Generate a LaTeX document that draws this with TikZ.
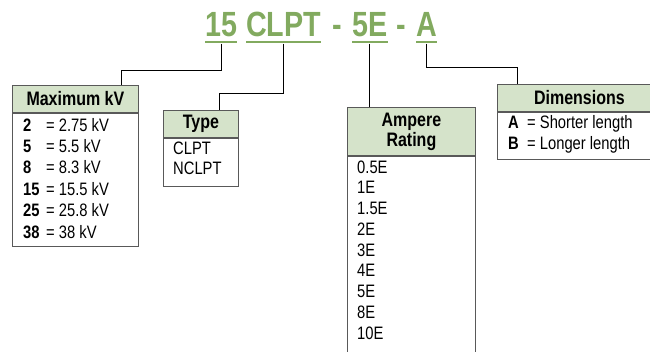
\documentclass[tikz,border=0pt]{standalone}
\usepackage{fontspec}
\setmainfont{Liberation Sans}[FakeStretch=0.82]
\usetikzlibrary{positioning}

\definecolor{codegreen}{HTML}{82AA5F}
\definecolor{headfill}{HTML}{D5E3CA}

\begin{document}
\begin{tikzpicture}[
  x=1pt, y=-1pt,
  code/.style={text=codegreen, font=\fontsize{35}{35}\selectfont\bfseries, inner sep=0pt, anchor=base west},
  uline/.style={draw=codegreen, line width=2.5pt},
  head/.style={draw=black!65, fill=headfill, line width=0.8pt, font=\fontsize{19.5}{20}\selectfont\bfseries, align=center, inner sep=0pt, anchor=north west, minimum height=27pt},
  body/.style={draw=black!65, line width=0.8pt, inner sep=0pt},
  entry/.style={font=\fontsize{18}{20}\selectfont, inner sep=0pt, anchor=base west},
  key/.style={font=\fontsize{18}{20}\selectfont\bfseries, inner sep=0pt, anchor=base west},
  link/.style={draw=black, line width=0.8pt}
]
\clip (0,0) rectangle (650,351);

% Catalog Number
\node[code] (t15) at (205,36) {15};
\node[code] (tclpt) at (246,36) {CLPT};
\node[code] (dash1) at (332,36) {-};
\node[code] (t5e) at (352,36) {5E};
\node[code] (dash2) at (396,36) {-};
\node[code] (ta) at (416,36) {A};
\foreach \n in {t15,tclpt,t5e,ta}
  \draw[uline] ([yshift=-6pt]\n.base west) -- ([yshift=-6pt]\n.base east);

% Maximum kV
\node[head, minimum width=126pt] (kvh) at (12,85) {Maximum kV};
\node[body, below=0pt of kvh, minimum width=126pt, minimum height=133pt] (kvb) {};
\foreach \k/\v [count=\i from 0] in {2/2.75,5/5.5,8/8.3,15/15.5,25/25.8,38/38} {
  \node[key] (kvk\i) at (23,131+21.4*\i) {\k};
  \node[entry] (kvv\i) at (46,131+21.4*\i) {= \v\ kV};
}

% Type
\node[head, minimum width=75pt] (typeh) at (163,110) {Type};
\node[body, below=0pt of typeh, minimum width=75pt, minimum height=48pt] (typeb) {};
\node[entry] (type1) at (173,154) {CLPT};
\node[entry] (type2) at (173,174) {NCLPT};

% Ampere Rating
\node[head, minimum width=128pt, minimum height=48pt] (amph) at (347,107) {Ampere\\Rating};
\node[body, below=0pt of amph, minimum width=128pt, minimum height=210pt] (ampb) {};
\foreach \a [count=\i from 0] in {0.5E,1E,1.5E,2E,3E,4E,5E,8E,10E}
  \node[entry] (amp\i) at (357,173+20.75*\i) {\a};

% Dimensions
\node[head, minimum width=164pt] (dimh) at (497,84) {Dimensions};
\node[body, below=0pt of dimh, minimum width=164pt, minimum height=47pt] (dimb) {};
\node[key] (dimka) at (508,128) {A};
\node[entry] (dimva) at (527,128) {= Shorter length};
\node[key] (dimkb) at (508,149) {B};
\node[entry] (dimvb) at (527,149) {= Longer length};

% Connections
\draw[link] ([yshift=-7.5pt]t15.base) -- ++(0,26.5) -| ([xshift=46pt]kvh.north);
\draw[link] ([yshift=-7.5pt]tclpt.base) -- ++(0,49.5) -| ([xshift=18.5pt]typeh.north);
\draw[link] ([yshift=-7.5pt]t5e.base) -- (t5e.base |- amph.north);
\draw[link] ([yshift=-7.5pt]ta.base) -- ++(0,24) -| ([xshift=-62pt]dimh.north);

\end{tikzpicture}
\end{document}
